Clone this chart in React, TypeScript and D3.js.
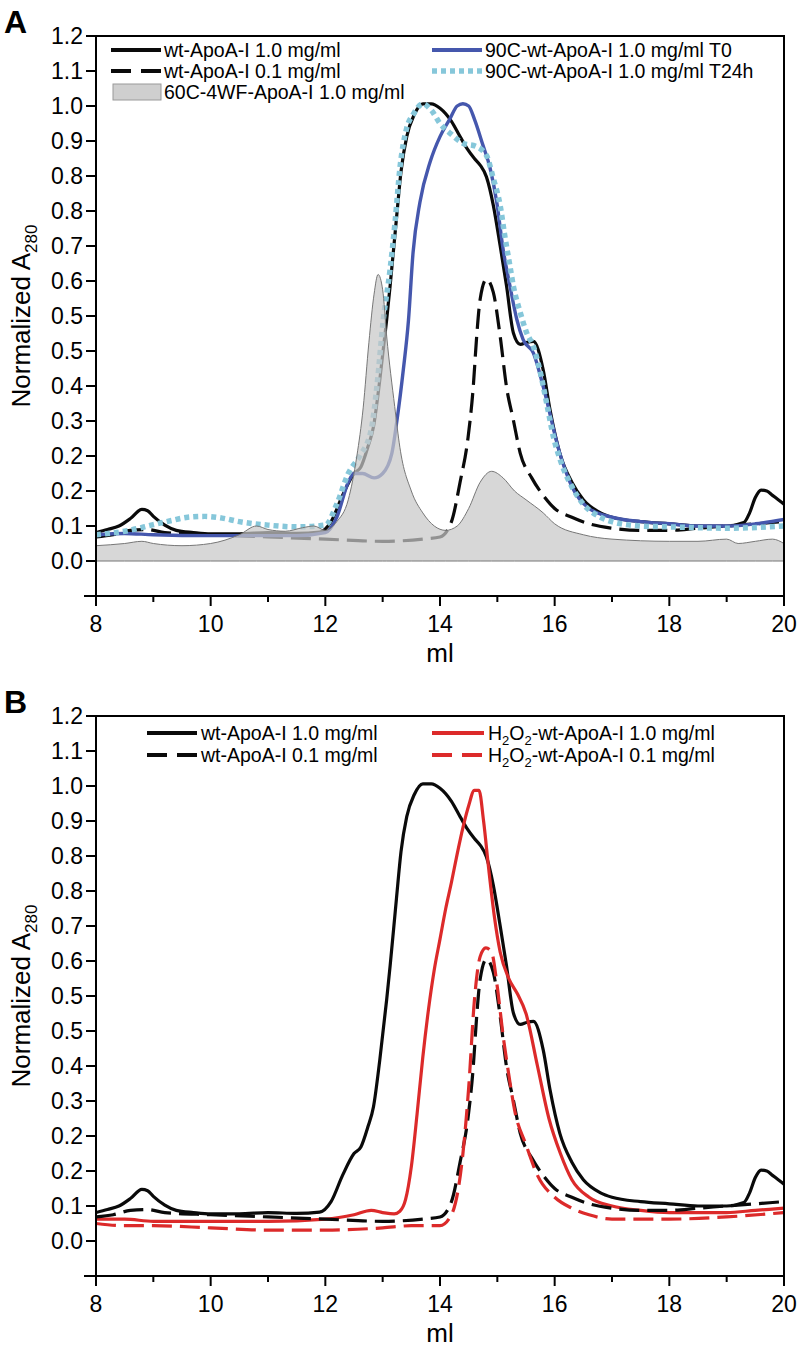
import * as d3 from "d3";

// axis ticks
const X_TICKS = [8, 10, 12, 14, 16, 18, 20];
const X_MINOR = [9, 11, 13, 15, 17, 19];
const Y_TICKS = [0, 0.08, 0.16, 0.24, 0.32, 0.4, 0.48, 0.56, 0.64, 0.72, 0.8, 0.88, 0.96, 1.04, 1.12, 1.2];
const Y_LABELS = ["0.0", "0.1", "0.2", "0.2", "0.3", "0.4", "0.5", "0.5", "0.6", "0.7", "0.8", "0.8", "0.9", "1.0", "1.1", "1.2"];

type Pt = [number, number];

// wt-ApoA-I 1.0 mg/ml  [ml, normalized A280]
const wt10: Pt[] = [
  [8.0, 0.065], [8.2, 0.072], [8.4, 0.08], [8.6, 0.097], [8.8, 0.118], [8.9, 0.115], [9.0, 0.102], [9.2, 0.082],
  [9.4, 0.07], [9.7, 0.065], [10, 0.062], [10.5, 0.062], [11, 0.065], [11.5, 0.063], [11.9, 0.066], [12.1, 0.09],
  [12.3, 0.15], [12.5, 0.2], [12.62, 0.215], [12.74, 0.26], [12.84, 0.307], [12.95, 0.414], [13.07, 0.552],
  [13.13, 0.629], [13.24, 0.782], [13.32, 0.89], [13.42, 0.97], [13.55, 1.02], [13.7, 1.045], [13.85, 1.045],
  [14.0, 1.035], [14.2, 1.005], [14.35, 0.97], [14.47, 0.943], [14.6, 0.92], [14.7, 0.905], [14.81, 0.878],
  [14.93, 0.813], [15.05, 0.72], [15.16, 0.629], [15.28, 0.521], [15.4, 0.495], [15.52, 0.5], [15.63, 0.502],
  [15.8, 0.437], [15.92, 0.345], [16.09, 0.246], [16.3, 0.18], [16.5, 0.14], [16.8, 0.11], [17.0, 0.1],
  [17.5, 0.09], [18.0, 0.085], [18.5, 0.08], [19.0, 0.08], [19.3, 0.088], [19.4, 0.11], [19.5, 0.145],
  [19.6, 0.162], [19.7, 0.16], [19.8, 0.15], [19.9, 0.14], [20.0, 0.13],
];

// wt-ApoA-I 0.1 mg/ml
const wt01: Pt[] = [
  [8.0, 0.055], [8.3, 0.06], [8.6, 0.07], [8.9, 0.072], [9.2, 0.065], [10, 0.06], [11, 0.055], [12, 0.05],
  [13, 0.045], [13.7, 0.05], [14.0, 0.055], [14.2, 0.09], [14.35, 0.18], [14.49, 0.283], [14.58, 0.398],
  [14.64, 0.514], [14.7, 0.598], [14.81, 0.644], [14.93, 0.614], [15.05, 0.513], [15.16, 0.398], [15.28, 0.322],
  [15.4, 0.246], [15.6, 0.19], [15.8, 0.15], [16.0, 0.12], [16.3, 0.1], [16.6, 0.085], [17.0, 0.075],
  [17.5, 0.07], [18.0, 0.07], [18.5, 0.075], [19.0, 0.08], [19.5, 0.085], [20.0, 0.09],
];

// 60C-4WF-ApoA-I 1.0 mg/ml
const wf60: Pt[] = [
  [8.0, 0.035], [8.5, 0.04], [8.8, 0.045], [9.0, 0.04], [9.5, 0.035], [10.0, 0.04], [10.5, 0.06], [10.8, 0.08],
  [11.0, 0.072], [11.3, 0.068], [11.6, 0.076], [11.8, 0.08], [12.0, 0.07], [12.2, 0.09], [12.4, 0.14],
  [12.55, 0.24], [12.66, 0.35], [12.76, 0.5], [12.85, 0.61], [12.92, 0.655], [13.0, 0.62], [13.07, 0.514],
  [13.21, 0.353], [13.3, 0.26], [13.5, 0.16], [13.7, 0.11], [13.9, 0.08], [14.1, 0.07], [14.3, 0.08],
  [14.5, 0.12], [14.7, 0.18], [14.9, 0.205], [15.1, 0.19], [15.3, 0.16], [15.5, 0.14], [15.8, 0.11],
  [16.0, 0.085], [16.5, 0.06], [17.0, 0.05], [18.0, 0.045], [18.5, 0.045], [19.0, 0.05], [19.2, 0.04],
  [19.5, 0.045], [19.8, 0.05], [20.0, 0.04],
];

// 90C-wt-ApoA-I 1.0 mg/ml T0
const c90t0: Pt[] = [
  [8.0, 0.06], [8.5, 0.063], [9.0, 0.06], [10, 0.058], [11, 0.058], [11.5, 0.058], [12.0, 0.065], [12.2, 0.1],
  [12.4, 0.18], [12.5, 0.2], [12.65, 0.2], [12.85, 0.19], [13.0, 0.2], [13.16, 0.246], [13.25, 0.322],
  [13.36, 0.437], [13.45, 0.55], [13.53, 0.705], [13.65, 0.82], [13.83, 0.913], [14.0, 0.97], [14.17, 1.01],
  [14.3, 1.04], [14.4, 1.045], [14.5, 1.04], [14.6, 1.01], [14.75, 0.95], [14.87, 0.9], [14.99, 0.82],
  [15.1, 0.713], [15.22, 0.629], [15.34, 0.552], [15.45, 0.506], [15.63, 0.475], [15.8, 0.399], [16.09, 0.246],
  [16.3, 0.17], [16.6, 0.12], [17.0, 0.1], [17.5, 0.09], [18.0, 0.085], [18.5, 0.08], [19.0, 0.08],
  [19.5, 0.085], [20.0, 0.095],
];

// 90C-wt-ApoA-I 1.0 mg/ml T24h
const c90t24: Pt[] = [
  [8.0, 0.06], [8.5, 0.068], [9.0, 0.083], [9.3, 0.092], [9.6, 0.1], [9.9, 0.102], [10.2, 0.098], [10.5, 0.09],
  [11.0, 0.082], [11.5, 0.078], [12.0, 0.082], [12.2, 0.13], [12.4, 0.2], [12.6, 0.24], [12.8, 0.3],
  [12.9, 0.4], [13.01, 0.55], [13.13, 0.667], [13.22, 0.78], [13.3, 0.897], [13.42, 0.99], [13.53, 1.02],
  [13.7, 1.045], [13.85, 1.03], [14.0, 1.0], [14.2, 0.975], [14.4, 0.955], [14.64, 0.947], [14.81, 0.927],
  [14.93, 0.874], [15.05, 0.812], [15.13, 0.743], [15.22, 0.674], [15.28, 0.628], [15.4, 0.568],
  [15.51, 0.522], [15.63, 0.49], [15.74, 0.437], [15.86, 0.361], [15.98, 0.283], [16.1, 0.23], [16.3, 0.17],
  [16.5, 0.13], [16.8, 0.1], [17.0, 0.09], [17.5, 0.08], [18.0, 0.078], [19.0, 0.075], [20.0, 0.08],
];

// H2O2-wt-ApoA-I 1.0 mg/ml
const h2o2_10: Pt[] = [
  [8.0, 0.05], [8.5, 0.05], [9.0, 0.045], [10, 0.045], [11, 0.045], [12, 0.05], [12.5, 0.06], [12.8, 0.07],
  [13.0, 0.065], [13.2, 0.062], [13.3, 0.068], [13.4, 0.095], [13.5, 0.17], [13.6, 0.29], [13.7, 0.42],
  [13.8, 0.53], [13.9, 0.62], [14.0, 0.69], [14.1, 0.76], [14.2, 0.82], [14.3, 0.885], [14.4, 0.945],
  [14.5, 0.995], [14.6, 1.03], [14.68, 1.03], [14.76, 0.96], [14.85, 0.85], [14.95, 0.74], [15.05, 0.66],
  [15.2, 0.6], [15.35, 0.565], [15.5, 0.52], [15.7, 0.4], [15.9, 0.28], [16.1, 0.2], [16.3, 0.14], [16.6, 0.1],
  [17.0, 0.08], [17.5, 0.07], [18.0, 0.065], [19.0, 0.065], [19.5, 0.07], [20.0, 0.075],
];

// H2O2-wt-ApoA-I 0.1 mg/ml
const h2o2_01: Pt[] = [
  [8.0, 0.04], [8.5, 0.035], [9.0, 0.035], [10, 0.03], [11, 0.025], [12, 0.025], [13, 0.03], [13.5, 0.035],
  [14.0, 0.035], [14.2, 0.06], [14.4, 0.2], [14.5, 0.35], [14.6, 0.55], [14.7, 0.65], [14.8, 0.67],
  [14.9, 0.66], [15.0, 0.58], [15.1, 0.47], [15.2, 0.38], [15.3, 0.3], [15.5, 0.22], [15.7, 0.15], [16.0, 0.1],
  [16.3, 0.075], [16.6, 0.06], [17.0, 0.05], [18.0, 0.05], [19.0, 0.055], [20.0, 0.065],
];

const FONT = "'Liberation Sans', Arial, sans-serif";
const LEFT = 96;
const RIGHT = 784;
const PLOT_H = 560;

type Series = { data: Pt[]; color: string; width: number; dash?: string; area?: boolean };

const BLACK = "#0a0a0a";
const BLUE = "#4557ad";
const CYAN = "#86c7da";
const RED = "#dc2a2a";

const seriesA: Series[] = [
  { data: wt01, color: BLACK, width: 3.2, dash: "20 8" },
  { data: wt10, color: BLACK, width: 3.2 },
  { data: c90t0, color: BLUE, width: 3.4 },
  { data: c90t24, color: CYAN, width: 5.5, dash: "5 4" },
  { data: wf60, color: "#777", width: 1, area: true },
];

const seriesB: Series[] = [
  { data: wt10, color: BLACK, width: 3.2 },
  { data: h2o2_10, color: RED, width: 3.2 },
  { data: wt01, color: BLACK, width: 3.2, dash: "20 8" },
  { data: h2o2_01, color: RED, width: 3.2, dash: "20 8" },
];

function Panel({ top, letter, series, legend }: { top: number; letter: string; series: Series[]; legend: JSX.Element }) {
  const bottom = top + PLOT_H;
  const x = d3.scaleLinear().domain([8, 20]).range([LEFT, RIGHT]);
  const y = d3.scaleLinear().domain([-0.08, 1.2]).range([bottom, top]);
  const line = d3.line<Pt>().x((d) => x(d[0])).y((d) => y(d[1])).curve(d3.curveMonotoneX);
  const area = d3.area<Pt>().x((d) => x(d[0])).y0(y(0)).y1((d) => y(d[1])).curve(d3.curveMonotoneX);
  return (
    <g fontFamily={FONT}>
      <text x={4} y={top - 3} fontSize={32} fontWeight="bold">{letter}</text>
      <defs>
        <clipPath id={`clip${letter}`}>
          <rect x={LEFT} y={top} width={RIGHT - LEFT} height={PLOT_H} />
        </clipPath>
      </defs>
      <g clipPath={`url(#clip${letter})`}>
        {series.map((s, i) =>
          s.area ? (
            <path key={i} d={area(s.data) || ""} fill="#c8c8c8" fillOpacity={0.72} stroke={s.color} strokeWidth={s.width} />
          ) : (
            <path key={i} d={line(s.data) || ""} fill="none" stroke={s.color} strokeWidth={s.width}
              strokeDasharray={s.dash} strokeLinejoin="round" />
          )
        )}
      </g>
      {/* frame */}
      <rect x={LEFT} y={top} width={RIGHT - LEFT} height={PLOT_H} fill="none" stroke="#000" strokeWidth={2} />
      {/* y ticks */}
      {Y_TICKS.map((t, i) => (
        <g key={i}>
          <line x1={LEFT - 10} x2={LEFT} y1={y(t)} y2={y(t)} stroke="#000" strokeWidth={2} />
          <text x={LEFT - 13} y={y(t)} dy="0.36em" textAnchor="end" fontSize={23}>{Y_LABELS[i]}</text>
        </g>
      ))}
      <line x1={LEFT - 12} x2={RIGHT} y1={bottom} y2={bottom} stroke="#000" strokeWidth={2} />
      {X_TICKS.map((t) => (
        <g key={t}>
          <line x1={x(t)} x2={x(t)} y1={bottom} y2={bottom + 10} stroke="#000" strokeWidth={2} />
          <text x={x(t)} y={bottom + 36} textAnchor="middle" fontSize={23}>{t}</text>
        </g>
      ))}
      {X_MINOR.map((t) => (
        <line key={t} x1={x(t)} x2={x(t)} y1={bottom} y2={bottom + 6} stroke="#000" strokeWidth={2} />
      ))}
      <text x={(LEFT + RIGHT) / 2} y={bottom + 66} textAnchor="middle" fontSize={26}>ml</text>
      <text transform={`translate(30, ${(top + bottom) / 2}) rotate(-90)`} textAnchor="middle" fontSize={26}>
        Normalized A<tspan fontSize={17} dy={7}>280</tspan>
      </text>
      {legend}
    </g>
  );
}

function LegendLine({ x1, x2, y, color, dash, width }: { x1: number; x2: number; y: number; color: string; dash?: string; width: number }) {
  return <line x1={x1} x2={x2} y1={y} y2={y} stroke={color} strokeWidth={width} strokeDasharray={dash} />;
}

export default function App() {
  const topA = 36;
  const topB = 716;
  const legA = (
    <g fontSize={19.5}>
      <LegendLine x1={111} x2={161} y={topA + 14} color={BLACK} width={4} />
      <text x={164} y={topA + 21}>wt-ApoA-I 1.0 mg/ml</text>
      <LegendLine x1={111} x2={161} y={topA + 35} color={BLACK} width={4} dash="20 10" />
      <text x={164} y={topA + 42}>wt-ApoA-I 0.1 mg/ml</text>
      <rect x={113} y={topA + 48} width={48} height={16} fill="#cfcfcf" stroke="#9a9a9a" strokeWidth={1} />
      <text x={164} y={topA + 63}>60C-4WF-ApoA-I 1.0 mg/ml</text>
      <LegendLine x1={432} x2={482} y={topA + 14} color={BLUE} width={4} />
      <text x={485} y={topA + 21}>90C-wt-ApoA-I 1.0 mg/ml T0</text>
      <LegendLine x1={432} x2={482} y={topA + 35} color={CYAN} width={5.5} dash="5 4" />
      <text x={485} y={topA + 42}>90C-wt-ApoA-I 1.0 mg/ml T24h</text>
    </g>
  );
  const legB = (
    <g fontSize={19.5}>
      <LegendLine x1={147} x2={197} y={topB + 17} color={BLACK} width={4} />
      <text x={201} y={topB + 24}>wt-ApoA-I 1.0 mg/ml</text>
      <LegendLine x1={147} x2={197} y={topB + 39} color={BLACK} width={4} dash="20 10" />
      <text x={201} y={topB + 46}>wt-ApoA-I 0.1 mg/ml</text>
      <LegendLine x1={432} x2={484} y={topB + 17} color={RED} width={4} />
      <text x={488} y={topB + 24}>H<tspan fontSize={13} dy={5}>2</tspan><tspan dy={-5}>O</tspan><tspan fontSize={13} dy={5}>2</tspan><tspan dy={-5}>-wt-ApoA-I 1.0 mg/ml</tspan></text>
      <LegendLine x1={432} x2={484} y={topB + 39} color={RED} width={4} dash="20 10" />
      <text x={488} y={topB + 46}>H<tspan fontSize={13} dy={5}>2</tspan><tspan dy={-5}>O</tspan><tspan fontSize={13} dy={5}>2</tspan><tspan dy={-5}>-wt-ApoA-I 0.1 mg/ml</tspan></text>
    </g>
  );
  return (
    <svg width={800} height={1348} style={{ display: "block", position: "absolute", left: 0, top: 0, background: "#fff" }}>
      <Panel top={topA} letter="A" series={seriesA} legend={legA} />
      <Panel top={topB} letter="B" series={seriesB} legend={legB} />
    </svg>
  );
}
